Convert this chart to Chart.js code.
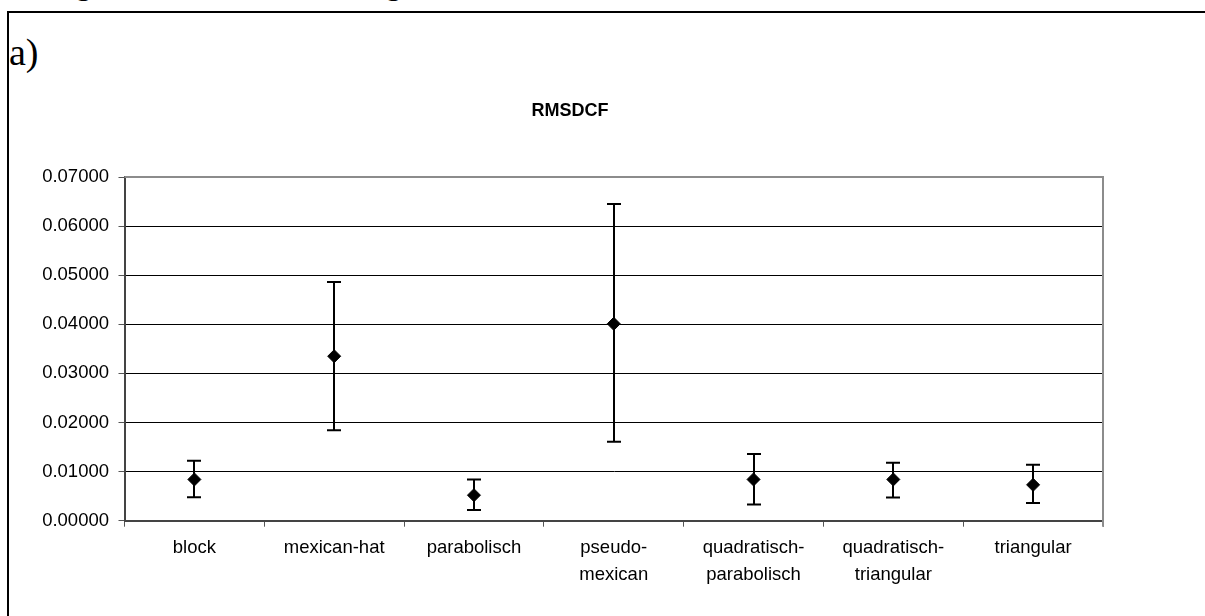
<!DOCTYPE html>
<html>
<head>
<meta charset="utf-8">
<script src="https://cdn.jsdelivr.net/npm/chart.js@4"></script>
<style>
  html, body { margin: 0; padding: 0; background: #fff; width: 1205px; height: 616px; overflow: hidden; }
  #frame { position: absolute; left: 7px; top: 11px; width: 1300px; height: 700px; border-left: 2px solid #000; border-top: 2px solid #000; }
  #lbl { position: absolute; left: 9px; top: 32px; font-family: "Liberation Serif", serif; font-size: 38px; line-height: 40px; color: #000; }
  .cut { position: absolute; top: -30px; font-family: "Liberation Serif", serif; font-size: 30px; line-height: 30px; color: #000; }
  #wrap { position: absolute; left: 0; top: 0; width: 1205px; height: 616px; }
</style>
</head>
<body>
<span class="cut" style="left:76px">g</span>
<span class="cut" style="left:386px">g</span>
<div id="frame"></div>
<div id="lbl">a)</div>
<div id="wrap"><canvas id="c" width="1205" height="616"></canvas></div>
<script>
const categories = ["block", ["mexican-hat"], "parabolisch", ["pseudo-", "mexican"], ["quadratisch-", "parabolisch"], ["quadratisch-", "triangular"], "triangular"];
const meanValues = [0.0084, 0.0335, 0.0052, 0.0401, 0.0084, 0.0084, 0.0073];
const lowValues  = [0.0048, 0.0184, 0.0022, 0.0161, 0.0033, 0.0047, 0.0036];
const highValues = [0.0122, 0.0486, 0.0084, 0.0645, 0.0136, 0.0118, 0.0114];
const yTicks = [0, 0.01, 0.02, 0.03, 0.04, 0.05, 0.06, 0.07];
const chartTitle = "RMSDCF";

const errorBars = {
  id: 'errorBars',
  beforeDatasetsDraw(chart) {
    const ctx = chart.ctx, xs = chart.scales.x, ys = chart.scales.y;
    ctx.save();
    ctx.strokeStyle = '#000';
    ctx.lineWidth = 2;
    for (let i = 0; i < meanValues.length; i++) {
      const x = Math.round(xs.getPixelForValue(i));
      const yl = ys.getPixelForValue(lowValues[i]);
      const yh = ys.getPixelForValue(highValues[i]);
      ctx.beginPath();
      ctx.moveTo(x, yl); ctx.lineTo(x, yh);
      ctx.moveTo(x - 7, yl); ctx.lineTo(x + 7, yl);
      ctx.moveTo(x - 7, yh); ctx.lineTo(x + 7, yh);
      ctx.stroke();
    }
    ctx.restore();
  }
};

const frameAndTitle = {
  id: 'frameAndTitle',
  beforeDraw(chart) {
    const ctx = chart.ctx;
    ctx.save();
    ctx.font = 'bold 18px "Liberation Sans", Arial, sans-serif';
    ctx.fillStyle = '#000';
    ctx.textAlign = 'center';
    ctx.textBaseline = 'middle';
    ctx.fillText(chartTitle, 570, 111);
    ctx.restore();
  },
  afterDatasetsDraw(chart) {
    const a = chart.chartArea, ctx = chart.ctx;
    ctx.save();
    ctx.strokeStyle = '#8c8c8c';
    ctx.lineWidth = 2;
    ctx.beginPath();
    ctx.moveTo(a.left, a.top); ctx.lineTo(a.right, a.top); ctx.lineTo(a.right, a.bottom + 6);
    ctx.stroke();
    ctx.restore();
  }
};

new Chart(document.getElementById('c'), {
  type: 'line',
  data: {
    labels: categories,
    datasets: [{
      data: meanValues,
      showLine: false,
      pointStyle: 'rectRot',
      pointRadius: 6.5,
      pointHoverRadius: 6.5,
      pointBackgroundColor: '#000',
      pointBorderColor: '#000',
      pointBorderWidth: 1
    }]
  },
  options: {
    responsive: false,
    animation: false,
    events: [],
    layout: { padding: { left: 0, top: 177, right: 102, bottom: 0 } },
    plugins: { legend: { display: false }, tooltip: { enabled: false }, title: { display: false } },
    scales: {
      x: {
        type: 'category',
        offset: true,
        afterFit(s) { s.height = 95.3; },
        grid: { offset: true, drawOnChartArea: false, drawTicks: true, tickLength: 6, tickColor: '#555', tickWidth: 1 },
        border: { display: true, color: '#444', width: 2 },
        ticks: {
          color: '#000',
          padding: 7,
          maxRotation: 0,
          autoSkip: false,
          font: { family: '"Liberation Sans", Arial, sans-serif', size: 18.5, lineHeight: 1.5 }
        }
      },
      y: {
        min: 0,
        max: 0.07,
        afterFit(s) { s.width = 124.5; },
        afterBuildTicks(s) { s.ticks = yTicks.map(v => ({ value: v })); },
        grid: {
          color: ctx => (ctx.tick && ctx.tick.value >= 0.07 - 1e-9) ? 'rgba(0,0,0,0)' : '#000',
          lineWidth: 1,
          tickLength: 6,
          tickColor: '#555',
          tickWidth: 1
        },
        border: { display: true, color: '#444', width: 2 },
        ticks: {
          color: '#000',
          padding: 9.5,
          font: { family: '"Liberation Sans", Arial, sans-serif', size: 18.5 },
          callback: v => Number(v).toFixed(5)
        }
      }
    }
  },
  plugins: [errorBars, frameAndTitle]
});
</script>
</body>
</html>
